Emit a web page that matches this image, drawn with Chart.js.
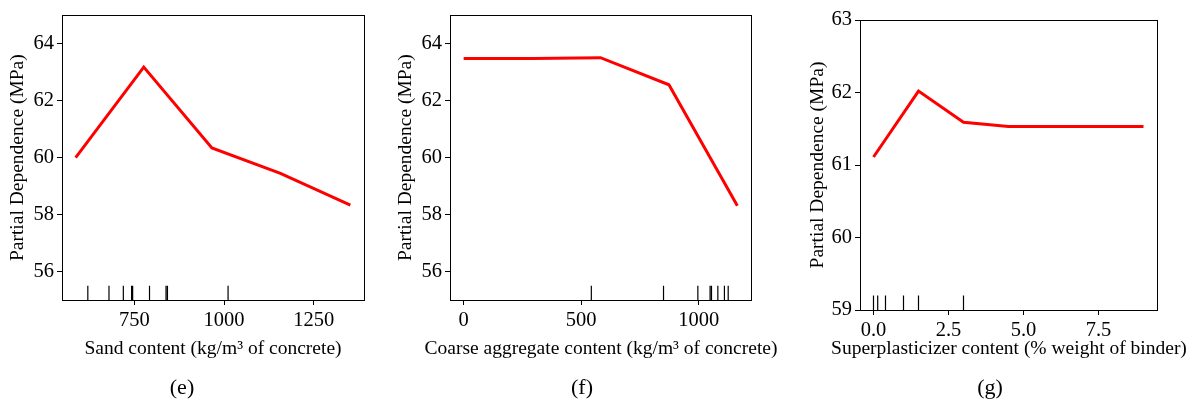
<!DOCTYPE html>
<html>
<head>
<meta charset="utf-8">
<script src="https://cdn.jsdelivr.net/npm/chart.js@4.4.1/dist/chart.umd.min.js"></script>
<style>
  body { margin: 0; background: #fff; width: 1196px; height: 404px; position: relative; overflow: hidden; }
  canvas { position: absolute; top: 0; }
  .cap { position: absolute; top: 375px; font: 22px 'Liberation Serif', serif; line-height: 24px; color: #000; transform: translateX(-50%); }
  .xt { position: absolute; top: 336px; font: 19.5px 'Liberation Serif', serif; line-height: 23px; color: #000; white-space: nowrap; transform: translateX(-50%); }
</style>
</head>
<body>
<canvas id="chartE" width="385" height="404" style="left:0px"></canvas>
<canvas id="chartF" width="395" height="404" style="left:390px"></canvas>
<canvas id="chartG" width="401" height="404" style="left:795px"></canvas>
<div class="xt" style="left:213px">Sand content (kg/m&sup3; of concrete)</div>
<div class="xt" style="left:601px">Coarse aggregate content (kg/m&sup3; of concrete)</div>
<div class="xt" style="left:1009px">Superplasticizer content (% weight of binder)</div>
<div class="cap" style="left:182px">(e)</div>
<div class="cap" style="left:582px">(f)</div>
<div class="cap" style="left:990px">(g)</div>
<script>
// (e) sand
var sandX = [586, 776, 966, 1157, 1352];
var sandPD = [60.00, 63.18, 60.34, 59.45, 58.33];
var sandRug = [620, 679, 719, 742, 745, 792, 838, 842, 1011];
var sandXTicks = [750, 1000, 1250];
var sandYTicks = [56, 58, 60, 62, 64];

// (f) coarse aggregate
var coarseX = [0, 291, 582, 873, 1164];
var coarsePD = [63.48, 63.48, 63.51, 62.56, 58.31];
var coarseRug = [543, 850, 996, 1048, 1054, 1081, 1109, 1125];
var coarseXTicks = [0, 500, 1000];
var coarseYTicks = [56, 58, 60, 62, 64];

// (g) superplasticizer
var spX = [0, 1.5, 3, 4.5, 6, 7.5, 9];
var spPD = [61.11, 62.02, 61.59, 61.53, 61.53, 61.53, 61.53];
var spRug = [0, 0.14, 0.4, 1.0, 1.5, 3.0];
var spXTicks = [0, 2.5, 5, 7.5];
var spYTicks = [59, 60, 61, 62, 63];

var serif = "'Liberation Serif', 'Times New Roman', serif";

var framePlugin = {
  id: 'frame',
  afterDatasetsDraw: function (chart) {
    var a = chart.chartArea, c = chart.ctx;
    c.save();
    c.strokeStyle = '#000';
    c.lineWidth = 1;
    c.strokeRect(Math.round(a.left) + 0.5, Math.round(a.top) + 0.5,
      Math.round(a.right - a.left), Math.round(a.bottom - a.top));
    c.restore();
  }
};

function makeChart(id, o) {
  var line = o.xs.map(function (x, i) { return { x: x, y: o.ys[i] }; });
  var rugH = (o.ymax - o.ymin) * 0.05;
  var rug = [];
  o.rug.forEach(function (v) {
    rug.push({ x: v, y: o.ymin }, { x: v, y: o.ymin + rugH }, { x: v, y: null });
  });
  var ctx = document.getElementById(id).getContext('2d');
  return new Chart(ctx, {
    type: 'line',
    data: {
      datasets: [{
        data: line,
        borderColor: '#ff0000',
        borderWidth: 3,
        pointRadius: 0,
        tension: 0
      }, {
        data: rug,
        borderColor: '#000',
        borderWidth: 1.2,
        pointRadius: 0,
        spanGaps: false
      }]
    },
    options: {
      responsive: false,
      animation: false,
      layout: { padding: { top: o.top, right: o.right, bottom: o.bottom, left: 0 } },
      plugins: { legend: { display: false }, tooltip: { enabled: false } },
      scales: {
        x: {
          type: 'linear',
          min: o.xmin, max: o.xmax,
          afterBuildTicks: function (s) { s.ticks = o.xticks.map(function (v) { return { value: v }; }); },
          afterFit: function (s) { s.height = o.xh; },
          border: { display: false },
          grid: { drawOnChartArea: false, color: '#000', tickLength: 5, lineWidth: 1 },
          ticks: {
            color: '#000', font: { family: serif, size: 20.5 }, padding: 3, maxRotation: 0,
            callback: function (v) { return o.fmt ? o.fmt(v) : v; }
          }
        },
        y: {
          min: o.ymin, max: o.ymax,
          afterBuildTicks: function (s) { s.ticks = o.yticks.map(function (v) { return { value: v }; }); },
          afterFit: function (s) { s.width = o.yw; },
          border: { display: false },
          grid: { drawOnChartArea: false, color: '#000', tickLength: 5, lineWidth: 1 },
          ticks: { color: '#000', font: { family: serif, size: 20.5 }, padding: 3 },
          title: {
            display: true, text: 'Partial Dependence (MPa)', color: '#000',
            font: { family: serif, size: 19.5 }, padding: { top: o.ytp, bottom: 0 }
          }
        }
      }
    },
    plugins: [framePlugin]
  });
}

makeChart('chartE', {
  xs: sandX, ys: sandPD, rug: sandRug, xticks: sandXTicks, yticks: sandYTicks,
  xmin: 548, xmax: 1390, ymin: 55, ymax: 65,
  top: 6, right: 21, bottom: 44, xh: 60, yw: 62, ytp: 6
});
makeChart('chartF', {
  xs: coarseX, ys: coarsePD, rug: coarseRug, xticks: coarseXTicks, yticks: coarseYTicks,
  xmin: -58, xmax: 1222, ymin: 55, ymax: 65,
  top: 6, right: 34, bottom: 44, xh: 60, yw: 60, ytp: 4
});
makeChart('chartG', {
  xs: spX, ys: spPD, rug: spRug, xticks: spXTicks, yticks: spYTicks,
  xmin: -0.45, xmax: 9.45, ymin: 59, ymax: 63,
  fmt: function (v) { return v.toFixed(1); },
  top: 20, right: 39, bottom: 44, xh: 50, yw: 65, ytp: 11
});
</script>
</body>
</html>
